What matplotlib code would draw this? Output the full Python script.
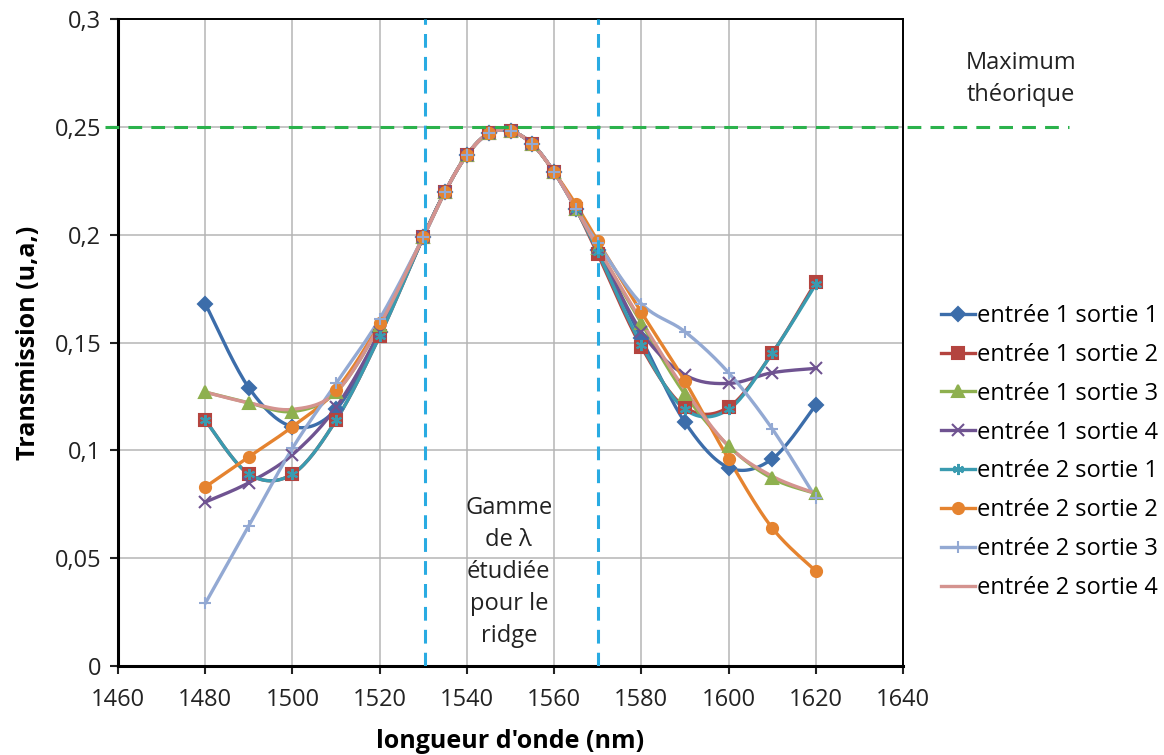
import matplotlib
matplotlib.use('Agg')
import matplotlib.pyplot as plt
from matplotlib.lines import Line2D
from matplotlib.ticker import FuncFormatter
import numpy as np

matplotlib.rcParams['font.family'] = ['Open Sans', 'DejaVu Sans']
matplotlib.rcParams['font.size'] = 17

# wavelengths (nm)
wl = [1480, 1490, 1500, 1510, 1520, 1530, 1535, 1540, 1545, 1550,
      1555, 1560, 1565, 1570, 1580, 1590, 1600, 1610, 1620]

e1s1 = [0.168, 0.129, 0.111, 0.119, 0.155, 0.199, 0.220, 0.237, 0.247, 0.248,
        0.242, 0.229, 0.212, 0.193, 0.152, 0.113, 0.092, 0.096, 0.121]
e1s2 = [0.114, 0.089, 0.089, 0.114, 0.153, 0.199, 0.220, 0.237, 0.247, 0.248,
        0.242, 0.229, 0.212, 0.191, 0.148, 0.120, 0.120, 0.145, 0.178]
e1s3 = [0.127, 0.122, 0.118, 0.127, 0.158, 0.199, 0.220, 0.237, 0.247, 0.248,
        0.242, 0.229, 0.212, 0.194, 0.159, 0.126, 0.102, 0.087, 0.080]
e1s4 = [0.076, 0.085, 0.098, 0.120, 0.155, 0.199, 0.220, 0.237, 0.247, 0.248,
        0.242, 0.229, 0.212, 0.194, 0.155, 0.135, 0.131, 0.136, 0.138]
e2s1 = [0.114, 0.089, 0.089, 0.114, 0.153, 0.199, 0.220, 0.237, 0.247, 0.248,
        0.242, 0.229, 0.212, 0.192, 0.149, 0.119, 0.119, 0.145, 0.177]
e2s2 = [0.083, 0.097, 0.111, 0.128, 0.159, 0.199, 0.220, 0.237, 0.247, 0.248,
        0.242, 0.229, 0.214, 0.197, 0.164, 0.132, 0.096, 0.064, 0.044]
e2s3 = [0.029, 0.065, 0.101, 0.131, 0.161, 0.199, 0.220, 0.237, 0.247, 0.248,
        0.242, 0.229, 0.212, 0.196, 0.168, 0.155, 0.136, 0.110, 0.078]
e2s4 = [0.127, 0.122, 0.119, 0.127, 0.158, 0.199, 0.220, 0.237, 0.247, 0.248,
        0.242, 0.229, 0.212, 0.194, 0.160, 0.128, 0.102, 0.088, 0.080]

labels = ['entrée 1 sortie 1', 'entrée 1 sortie 2', 'entrée 1 sortie 3',
          'entrée 1 sortie 4', 'entrée 2 sortie 1', 'entrée 2 sortie 2',
          'entrée 2 sortie 3', 'entrée 2 sortie 4']
series = [e1s1, e1s2, e1s3, e1s4, e2s1, e2s2, e2s3, e2s4]

colors = ['#3C6DAA', '#B4443F', '#8EB04F', '#6F5391',
          '#3A9BB0', '#E5832F', '#93A9D3', '#D4938F']
markers = ['D', 's', '^', 'x', (6, 2, 0), 'o', '+', None]
msizes = [7, 8, 8, 8, 8, 8, 8, 0]

ridge_lo, ridge_hi = 1530.5, 1570
max_theo = 0.25


def smooth(x, y, n=20):
    # bezier smoothing like the excel "smoothed line" option
    pts = np.column_stack([x, y]).astype(float)
    out = [pts[0]]
    t = np.linspace(0, 1, n)[1:, None]
    for i in range(len(pts) - 1):
        p0 = pts[i - 1] if i > 0 else pts[i]
        p1, p2 = pts[i], pts[i + 1]
        p3 = pts[i + 2] if i + 2 < len(pts) else pts[i + 1]
        c1 = p1 + (p2 - p0) / 6
        c2 = p2 - (p3 - p1) / 6
        seg = ((1 - t) ** 3 * p1 + 3 * (1 - t) ** 2 * t * c1
               + 3 * (1 - t) * t ** 2 * c2 + t ** 3 * p2)
        out.extend(seg)
    out = np.array(out)
    return out[:, 0], out[:, 1]


fig = plt.figure(figsize=(11.64, 7.55), dpi=100)
ax = fig.add_axes([0.1014, 0.1179, 0.6744, 0.8569])

handles = []
for s, lab, c, m, ms in zip(series, labels, colors, markers, msizes):
    xs, ys = smooth(wl, s)
    ax.plot(xs, ys, color=c, lw=2.4, zorder=3, solid_capstyle='round')
    if m is not None:
        ax.plot(wl, s, ls='none', marker=m, ms=ms, color=c, mec=c,
                mew=1.5, zorder=4)
    handles.append(Line2D([], [], color=c, lw=2.4, marker=m, ms=ms,
                          mec=c, mew=1.5))

# ridge wavelength range
for xv in (ridge_lo, ridge_hi):
    ax.axvline(xv, color='#29ABE2', lw=2.2, dashes=(4.5, 3), zorder=5)

# theoretical maximum, extends past the plot area
ax.plot([1457, 1678], [max_theo, max_theo], color='#2BB24C', lw=2.2,
        dashes=(4.5, 3), clip_on=False, zorder=5)

ax.text(1667, 0.2722, 'Maximum\nthéorique', ha='center', va='center',
        fontsize=17, linespacing=1.45, color='#222222')
ax.text(1549.6, 0.0435, 'Gamme\nde λ\nétudiée\npour le\nridge',
        ha='center', va='center', fontsize=17, linespacing=1.45,
        color='#222222', zorder=6)

ax.set_xlim(1460, 1640)
ax.set_ylim(0, 0.3)
ax.set_xticks(np.arange(1460, 1641, 20))
ax.set_yticks(np.arange(0, 0.301, 0.05))
ax.yaxis.set_major_formatter(FuncFormatter(
    lambda v, p: ('%g' % round(v, 2)).replace('.', ',')))
ax.grid(True, color='#B5B5B5', lw=1.1, zorder=0)
ax.set_axisbelow(True)

for side in ['left', 'bottom']:
    ax.spines[side].set_linewidth(2.2)
for side in ['top', 'right']:
    ax.spines[side].set_linewidth(1.4)
ax.tick_params(direction='out', length=6, width=1.5, colors='#222222',
               labelsize=17, pad=6)
ax.tick_params(axis='x', pad=10)

ax.set_xlabel("longueur d'onde (nm)", fontsize=18, fontweight='bold',
              labelpad=12)
ax.set_ylabel('Transmission (u,a,)', fontsize=18, fontweight='bold',
              labelpad=10)

fig.legend(handles, labels, loc='upper left',
           bbox_to_anchor=(0.800, 0.610), frameon=False, fontsize=17,
           handlelength=1.45, handletextpad=0.1, labelspacing=0.63,
           borderaxespad=0)

fig.savefig('out.png', dpi=100)
